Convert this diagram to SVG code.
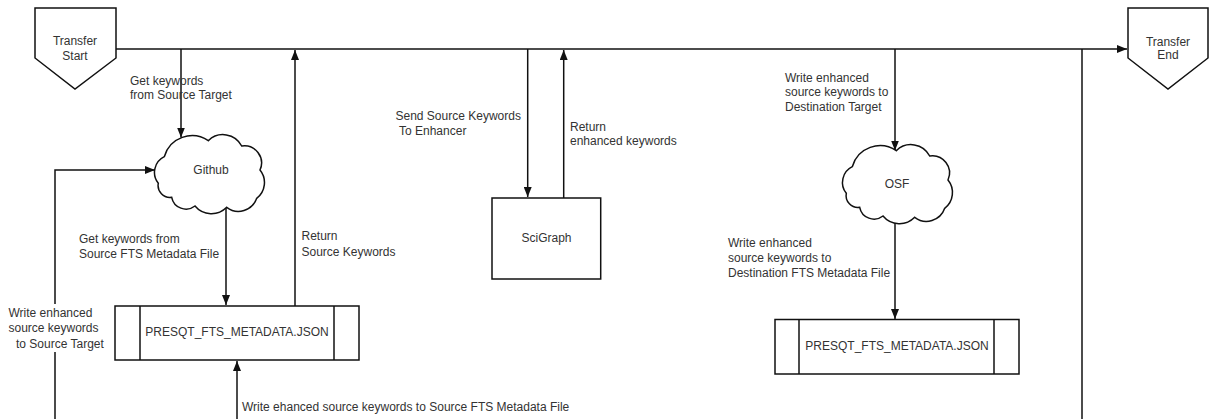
<svg xmlns="http://www.w3.org/2000/svg" width="1212" height="419" viewBox="0 0 1212 419">
<defs>
<style>
.shape{fill:#fff;stroke:#111;stroke-width:1.5}
.cloud{fill:#fff;stroke:#111;stroke-width:1.5}
.conn{fill:none;stroke:#111;stroke-width:1.5}
text{font-family:"Liberation Sans",Arial,sans-serif;font-size:12px;fill:#333}
.c{text-anchor:middle}
</style>
<marker id="arr" markerUnits="userSpaceOnUse" markerWidth="10" markerHeight="8" refX="10" refY="4" orient="auto">
<path d="M0,0 L10,4 L0,8 z" fill="#111"/>
</marker>
<path id="cloudPath" d="M9.3,21.7 A28.8,28.8 0 0 1 53.3,5.7 A21,21 0 0 1 86.7,11 A17.2,17.2 0 0 1 105,35 A19.9,19.9 0 0 1 101.7,63.3 A19.3,19.3 0 0 1 71.7,72.3 A21.4,21.4 0 0 1 40,71 A14.6,14.6 0 0 1 16.7,62.3 A11.9,11.9 0 0 1 3.3,48.3 A17.5,17.5 0 0 1 9.3,21.7 Z"/>
</defs>

<g id="connectors">
<path class="conn" d="M116,49 H1127" marker-end="url(#arr)"/>
<path class="conn" d="M181,49 V137.5" marker-end="url(#arr)"/>
<path class="conn" d="M295,306 V50" marker-end="url(#arr)"/>
<path class="conn" d="M226,208 V305" marker-end="url(#arr)"/>
<path class="conn" d="M55,419 V352 M55,304 V170 H155" marker-end="url(#arr)"/>
<path class="conn" d="M237,419 V361" marker-end="url(#arr)"/>
<path class="conn" d="M527.7,49 V197" marker-end="url(#arr)"/>
<path class="conn" d="M563.7,198 V50" marker-end="url(#arr)"/>
<path class="conn" d="M895,49 V150.5" marker-end="url(#arr)"/>
<path class="conn" d="M895,223 V319" marker-end="url(#arr)"/>
<path class="conn" d="M1082,49 V419"/>
</g>

<g id="transfer-start">
<path class="shape" d="M35,8 H116 V58 L75,89 L35,58 Z"/>
<text class="c" x="75" y="45">Transfer</text>
<text class="c" x="75" y="59.5">Start</text>
</g>

<g id="transfer-end">
<path class="shape" d="M1128,8 H1208 V58 L1168,89 L1128,58 Z"/>
<text class="c" x="1168" y="46">Transfer</text>
<text class="c" x="1168" y="59">End</text>
</g>

<g id="github">
<use href="#cloudPath" class="cloud" transform="translate(155,135)"/>
<text class="c" x="211" y="174">Github</text>
</g>

<g id="metadata-source">
<rect class="shape" x="115" y="306" width="244" height="54"/>
<line class="shape" x1="140" y1="306" x2="140" y2="360"/>
<line class="shape" x1="334" y1="306" x2="334" y2="360"/>
<text class="c" x="237" y="336">PRESQT_FTS_METADATA.JSON</text>
</g>

<g id="scigraph">
<rect class="shape" x="492" y="198" width="108.7" height="81"/>
<text class="c" x="546.5" y="241.5">SciGraph</text>
</g>

<g id="osf">
<use href="#cloudPath" class="cloud" transform="translate(843,145)"/>
<text class="c" x="897" y="187.5">OSF</text>
</g>

<g id="metadata-destination">
<rect class="shape" x="775" y="319.5" width="244" height="54.5"/>
<line class="shape" x1="799" y1="319.5" x2="799" y2="374"/>
<line class="shape" x1="994" y1="319.5" x2="994" y2="374"/>
<text class="c" x="897" y="349.5">PRESQT_FTS_METADATA.JSON</text>
</g>

<g id="labels">
<text x="130" y="84.5">Get keywords</text>
<text x="130" y="99">from Source Target</text>
<text x="79" y="243">Get keywords from</text>
<text x="79" y="258">Source FTS Metadata File</text>
<text x="301.5" y="240">Return</text>
<text x="301.5" y="255.5">Source Keywords</text>
<text x="8.5" y="317">Write enhanced</text>
<text x="8.5" y="332">source keywords</text>
<text x="16" y="348">to Source Target</text>
<text x="242" y="411">Write ehanced source keywords to Source FTS Metadata File</text>
<text x="395.5" y="120">Send Source Keywords</text>
<text x="399" y="134.5">To Enhancer</text>
<text x="570" y="130.5">Return</text>
<text x="570" y="144.5">enhanced keywords</text>
<text x="785" y="81.5">Write enhanced</text>
<text x="785" y="96">source keywords to</text>
<text x="785" y="111">Destination Target</text>
<text x="728" y="246.5">Write enhanced</text>
<text x="728" y="261.5">source keywords to</text>
<text x="728" y="276.5">Destination FTS Metadata File</text>
</g>
</svg>
